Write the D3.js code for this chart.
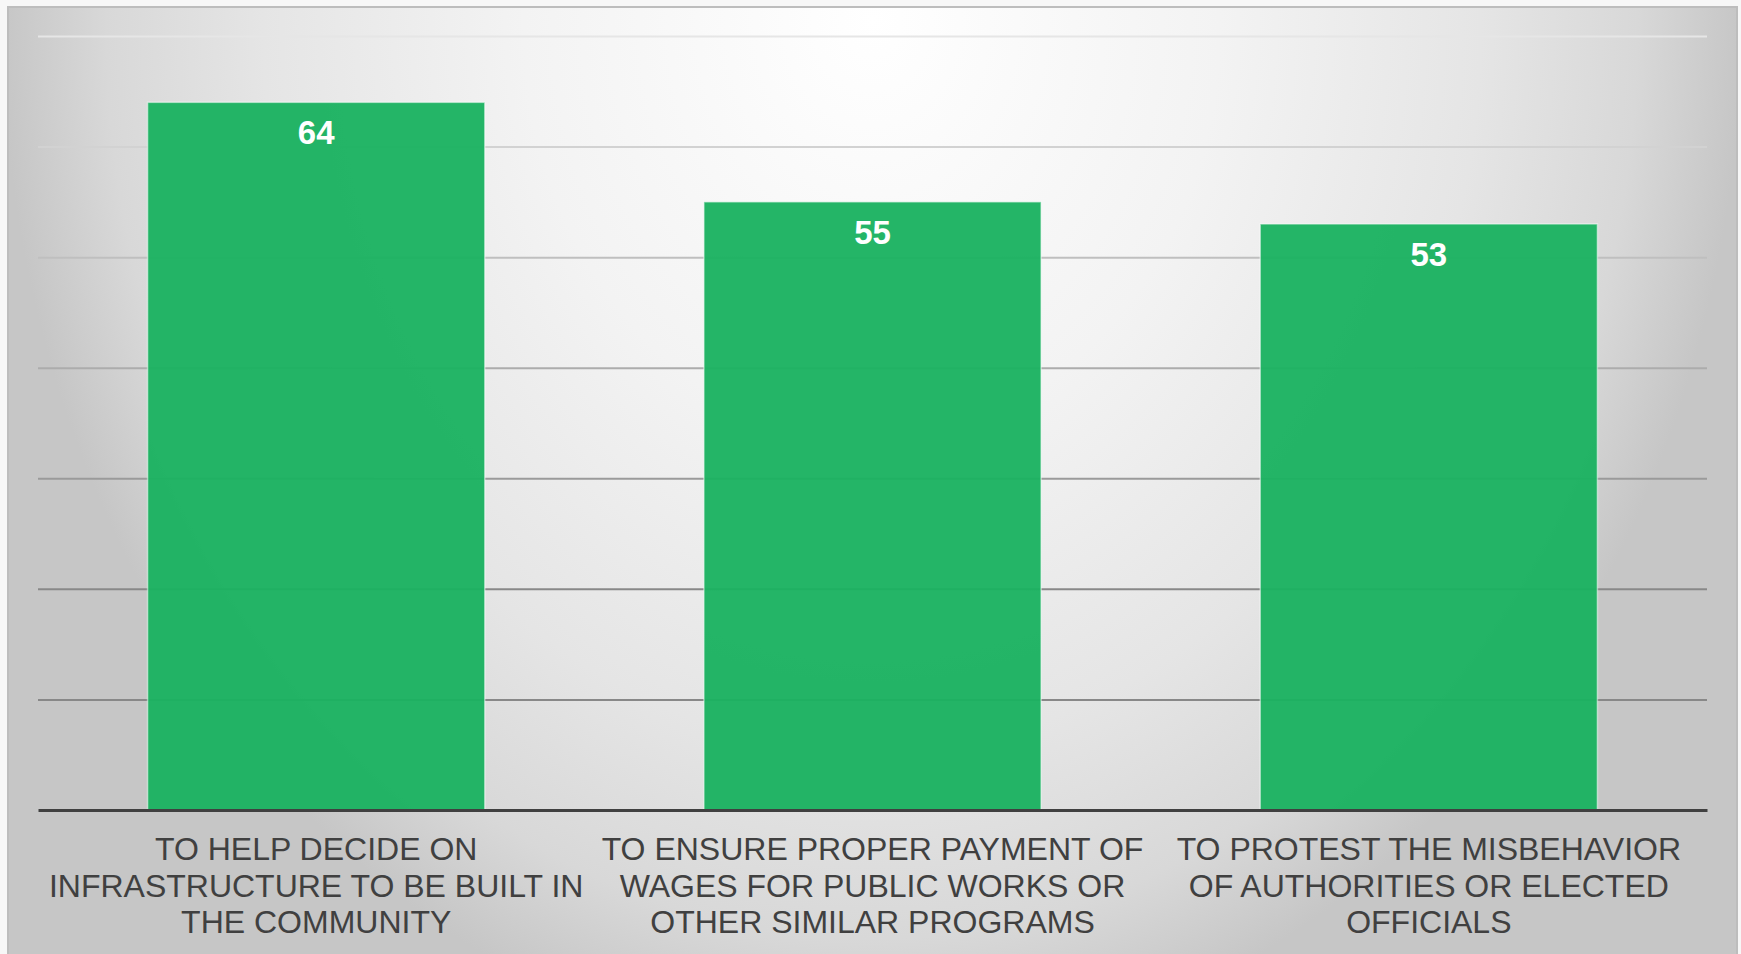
<!DOCTYPE html>
<html>
<head>
<meta charset="utf-8">
<script src="https://cdn.jsdelivr.net/npm/d3@7"></script>
<style>
  html, body { margin: 0; padding: 0; background: #f7f7f7; overflow: hidden; }
  svg { display: block; }
  text { font-family: "Liberation Sans", Arial, sans-serif; }
</style>
</head>
<body>
<svg id="chart" width="1741" height="954"></svg>
<script>
// Reasons for taking part, share of respondents (%)
const categories = [
  "TO HELP DECIDE ON INFRASTRUCTURE TO BE BUILT IN THE COMMUNITY",
  "TO ENSURE PROPER PAYMENT OF WAGES FOR PUBLIC WORKS OR OTHER SIMILAR PROGRAMS",
  "TO PROTEST THE MISBEHAVIOR OF AUTHORITIES OR ELECTED OFFICIALS"
];
const categoryLines = [
  ["TO HELP DECIDE ON", "INFRASTRUCTURE TO BE BUILT IN", "THE COMMUNITY"],
  ["TO ENSURE PROPER PAYMENT OF", "WAGES FOR PUBLIC WORKS OR", "OTHER SIMILAR PROGRAMS"],
  ["TO PROTEST THE MISBEHAVIOR", "OF AUTHORITIES OR ELECTED", "OFFICIALS"]
];
const values = [64, 55, 53];
const yTicks = [10, 20, 30, 40, 50, 60, 70];

const svg = d3.select("#chart");
const defs = svg.append("defs");

// Panel background: light centre at top, greying towards the edges
const bg = defs.append("radialGradient")
  .attr("id", "panelBg")
  .attr("gradientUnits", "userSpaceOnUse")
  .attr("cx", 872).attr("cy", 20).attr("r", 870)
  .attr("gradientTransform", "translate(872,20) scale(1,1.2) translate(-872,-20)");
[[0, "#ffffff"], [0.4, "#f3f3f3"], [0.7, "#e5e5e5"], [0.88, "#d8d8d8"], [1, "#c6c6c6"]]
  .forEach(([o, c]) => bg.append("stop").attr("offset", o).attr("stop-color", c));

svg.append("rect")
  .attr("x", 8).attr("y", 7).attr("width", 1729).attr("height", 980)
  .attr("fill", "url(#panelBg)")
  .attr("stroke", "#bdbdbd").attr("stroke-width", 2);

const plot = { left: 38, right: 1707, top: 36, bottom: 810 };

const x = d3.scaleBand()
  .domain(categories)
  .range([plot.left, plot.right])
  .paddingInner(0.3939)
  .paddingOuter(0.197);

const y = d3.scaleLinear()
  .domain([0, 70])
  .range([plot.bottom, plot.top]);

// Gridline colour darkens from the top of the plot downwards
const gridShade = d3.scaleLinear()
  .domain([plot.top, 330, 590])
  .range(["#e6e6e6", "#b2b2b2", "#888888"])
  .interpolate(d3.interpolateRgb)
  .clamp(true);

const grid = d3.axisLeft(y)
  .tickValues(yTicks)
  .tickSize(-(plot.right - plot.left))
  .tickFormat("");
const gGrid = svg.append("g")
  .attr("transform", `translate(${plot.left},0)`)
  .call(grid);
gGrid.select(".domain").remove();
gGrid.selectAll(".tick line")
  .attr("stroke", d => gridShade(y(d)))
  .attr("stroke-width", 2);

// Bars
svg.append("g").selectAll("rect")
  .data(values)
  .join("rect")
  .attr("x", (d, i) => x(categories[i]))
  .attr("y", d => y(d))
  .attr("width", x.bandwidth())
  .attr("height", d => y(0) - y(d))
  .attr("fill", "#1bb261")
  .attr("fill-opacity", 0.96)
  .attr("stroke", "rgba(255,255,255,0.5)")
  .attr("stroke-width", 1.5);

// Value labels inside the top of each bar
svg.append("g").selectAll("text")
  .data(values)
  .join("text")
  .attr("x", (d, i) => x(categories[i]) + x.bandwidth() / 2)
  .attr("y", d => y(d) + 42)
  .attr("text-anchor", "middle")
  .attr("fill", "#ffffff")
  .attr("font-weight", "bold")
  .attr("font-size", 33)
  .text(d => d);

// Category axis
const xAxis = d3.axisBottom(x).tickSize(0).tickFormat("");
const gX = svg.append("g")
  .attr("transform", `translate(0,${plot.bottom})`)
  .call(xAxis);
gX.select(".domain")
  .attr("stroke", "#404040")
  .attr("stroke-width", 3);

const labels = gX.selectAll(".tick")
  .append("text")
  .attr("fill", "#404040")
  .attr("font-size", 32)
  .attr("text-anchor", "middle");
labels.selectAll("tspan")
  .data((d) => categoryLines[categories.indexOf(d)])
  .join("tspan")
  .attr("x", 0)
  .attr("y", (d, i) => 50 + i * 36.5)
  .text(d => d);
</script>
</body>
</html>
